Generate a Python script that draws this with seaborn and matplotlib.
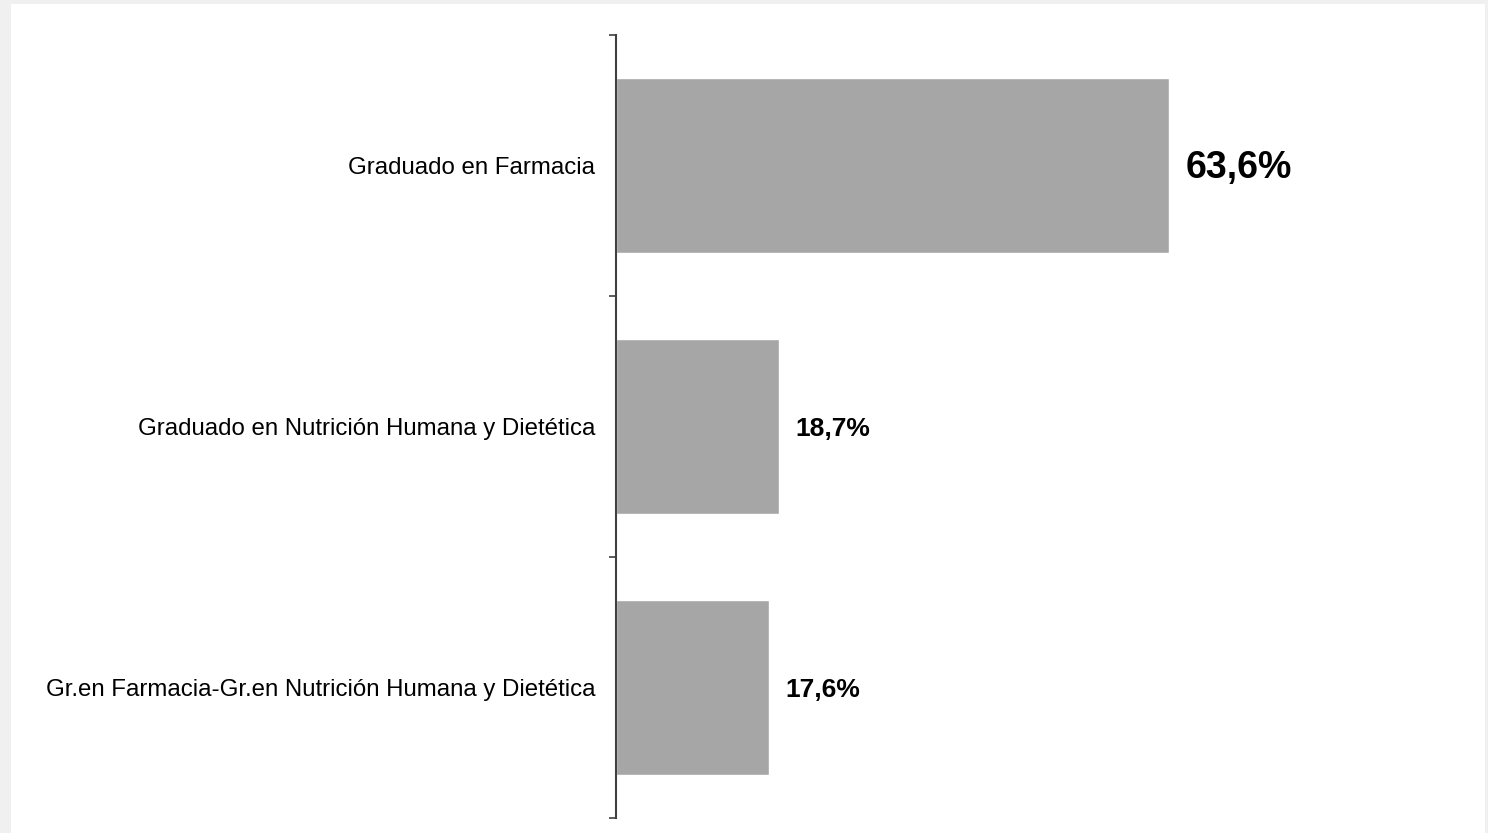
import matplotlib
matplotlib.use("Agg")
import matplotlib.pyplot as plt
import seaborn as sns
import pandas as pd
from matplotlib.patches import Rectangle

categories = ["Graduado en Farmacia",
              "Graduado en Nutrición Humana y Dietética",
              "Gr.en Farmacia-Gr.en Nutrición Humana y Dietética"]
values = [63.6, 18.7, 17.6]
label_sizes = [27, 19, 19]

df = pd.DataFrame({"titulacion": categories, "pct": values})

sns.set_style("white")
plt.rcParams['font.family'] = ['Liberation Sans', 'DejaVu Sans']

fig = plt.figure(figsize=(14.88, 8.33), dpi=100, facecolor="#f0f0f0")
# white panel inside the light grey frame
fig.patches.append(Rectangle((11 / 1488, 0), (1485 - 11) / 1488, 1 - 4 / 833,
                             transform=fig.transFigure, facecolor="white",
                             edgecolor="none", zorder=-10))

ax = fig.add_axes([616 / 1488, 15 / 833, 0.584, 783 / 833])
ax.set_facecolor("none")

sns.barplot(data=df, x="pct", y="titulacion", color="#a6a6a6", saturation=1,
            width=0.67, ax=ax)

ax.set_xlim(0, 100)
ax.set_ylim(2.5, -0.5)
ax.set_xlabel("")
ax.set_ylabel("")
ax.set_xticks([])

# ticks at the category borders, labels at the centres
ax.set_yticks([-0.5, 0.5, 1.5, 2.5])
ax.set_yticklabels([])
ax.set_yticks([0, 1, 2], minor=True)
ax.set_yticklabels(categories, minor=True, fontsize=17.3, color="black")
ax.tick_params(axis="y", which="major", left=True, length=5, width=1.2, color="#404040")
ax.tick_params(axis="y", which="minor", length=0, pad=15)

for s in ["top", "right", "bottom"]:
    ax.spines[s].set_visible(False)
ax.spines["left"].set_color("#404040")
ax.spines["left"].set_linewidth(1.5)

for i, v in enumerate(values):
    ax.annotate(f"{v:.1f}%".replace(".", ","), xy=(v, i), xytext=(12, -1.5),
                textcoords="offset points", va="center", ha="left",
                fontsize=label_sizes[i], fontweight="bold", color="black")

fig.savefig("out.png", dpi=100, facecolor=fig.get_facecolor())
